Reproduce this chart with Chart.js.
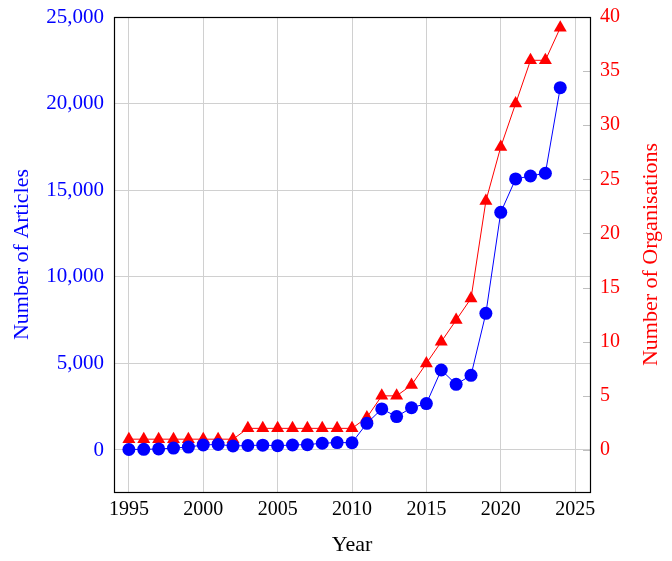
<!DOCTYPE html>
<html><head><meta charset="utf-8">
<script src="https://cdn.jsdelivr.net/npm/chart.js@4"></script>
<style>html,body{margin:0;padding:0;background:#fff}#wrap{width:672px;height:561px}</style>
</head><body><div id="wrap"><canvas id="c" width="672" height="561"></canvas></div>
<script>
const years = [1995,1996,1997,1998,1999,2000,2001,2002,2003,2004,2005,2006,2007,2008,2009,2010,2011,2012,2013,2014,2015,2016,2017,2018,2019,2020,2021,2022,2023,2024];
const articles = [30,40,60,110,170,290,320,230,260,280,250,290,310,390,430,420,1540,2370,1930,2440,2680,4620,3790,4310,7890,13720,15650,15820,15980,20920];
const organisations = [1,1,1,1,1,1,1,1,2,2,2,2,2,2,2,2,3,5,5,6,8,10,12,14,23,28,32,36,36,39];
const xTicks = [1995,2000,2005,2010,2015,2020,2025];
const leftTicks = [0,5000,10000,15000,20000,25000];
const rightTicks = [0,5,10,15,20,25,30,35,40];

const FONT = "'Liberation Serif', 'DejaVu Serif', serif";
const leftMin = -2425, leftMax = 25000;
const rightMax = 40, rightMin = leftMin / leftMax * rightMax;

const framePlugin = {
  id: 'frame',
  afterDraw(chart) {
    const ctx = chart.ctx, a = chart.chartArea;
    const y2 = chart.scales.y2;
    ctx.save();
    ctx.strokeStyle = '#bfbfbf'; ctx.lineWidth = 1;
    rightTicks.forEach(v => {
      const py = Math.round(y2.getPixelForValue(v)) + 0.5;
      ctx.beginPath(); ctx.moveTo(a.right - 7, py); ctx.lineTo(a.right, py); ctx.stroke();
    });
    ctx.strokeStyle = '#000'; ctx.lineWidth = 1.2;
    ctx.strokeRect(Math.round(a.left)+0.5, Math.round(a.top)+0.5, Math.round(a.right-a.left), Math.round(a.bottom-a.top));
    ctx.fillStyle = '#ff0000';
    ctx.font = "22px " + FONT;
    ctx.textAlign = 'center'; ctx.textBaseline = 'middle';
    ctx.translate(651, (a.top + a.bottom) / 2);
    ctx.rotate(-Math.PI / 2);
    ctx.fillText('Number of Organisations', 0, 0);
    ctx.restore();
  }
};

const noPad = s => { s.paddingTop = 0; s.paddingBottom = 0; };

new Chart(document.getElementById('c'), {
  type: 'line',
  data: {
    datasets: [
      {
        label: 'Number of Articles',
        data: years.map((yr, i) => ({x: yr, y: articles[i]})),
        yAxisID: 'y',
        borderColor: '#0000ff', backgroundColor: '#0000ff',
        borderWidth: 1, pointStyle: 'circle', pointRadius: 6.5,
        pointBorderWidth: 0, tension: 0
      },
      {
        label: 'Number of Organisations',
        data: years.map((yr, i) => ({x: yr, y: organisations[i]})),
        yAxisID: 'y2',
        borderColor: '#ff0000', backgroundColor: '#ff0000',
        borderWidth: 1, pointStyle: 'triangle', pointRadius: 7.5,
        pointBorderWidth: 0, tension: 0
      }
    ]
  },
  options: {
    responsive: false, animation: false,
    layout: {padding: {top: 17, left: 0, right: 0, bottom: 0}},
    plugins: {legend: {display: false}, tooltip: {enabled: false}},
    scales: {
      x: {
        type: 'linear', min: 1994, max: 2026,
        afterBuildTicks: s => { s.ticks = xTicks.map(v => ({value: v})); },
        afterFit: s => { s.height = 69; s.paddingLeft = 0; s.paddingRight = 0; },
        ticks: {color: '#000', font: {family: FONT, size: 20}, padding: 6, callback: v => String(v), maxRotation: 0},
        grid: {color: '#d0d0d0', drawTicks: false},
        border: {display: false},
        title: {display: true, text: 'Year', color: '#000', font: {family: FONT, size: 22}, padding: {top: 0, bottom: 3}}
      },
      y: {
        position: 'left', min: leftMin, max: leftMax,
        afterBuildTicks: s => { s.ticks = leftTicks.map(v => ({value: v})); },
        afterFit: s => { s.width = 114; noPad(s); },
        ticks: {color: '#0000ff', font: {family: FONT, size: 21}, padding: 10, callback: v => v.toLocaleString('en-US')},
        grid: {color: '#d0d0d0', drawTicks: false},
        border: {display: false},
        title: {display: true, text: 'Number of Articles', color: '#0000ff', font: {family: FONT, size: 22}, padding: {top: 9, bottom: 0}}
      },
      y2: {
        position: 'right', min: rightMin, max: rightMax,
        afterBuildTicks: s => { s.ticks = rightTicks.map(v => ({value: v})); },
        afterFit: s => { s.width = 82; noPad(s); },
        ticks: {color: '#ff0000', font: {family: FONT, size: 20}, padding: 10, callback: v => String(v)},
        grid: {drawOnChartArea: false, drawTicks: false},
        border: {display: false}
      }
    }
  },
  plugins: [framePlugin]
});
</script>
</body></html>
